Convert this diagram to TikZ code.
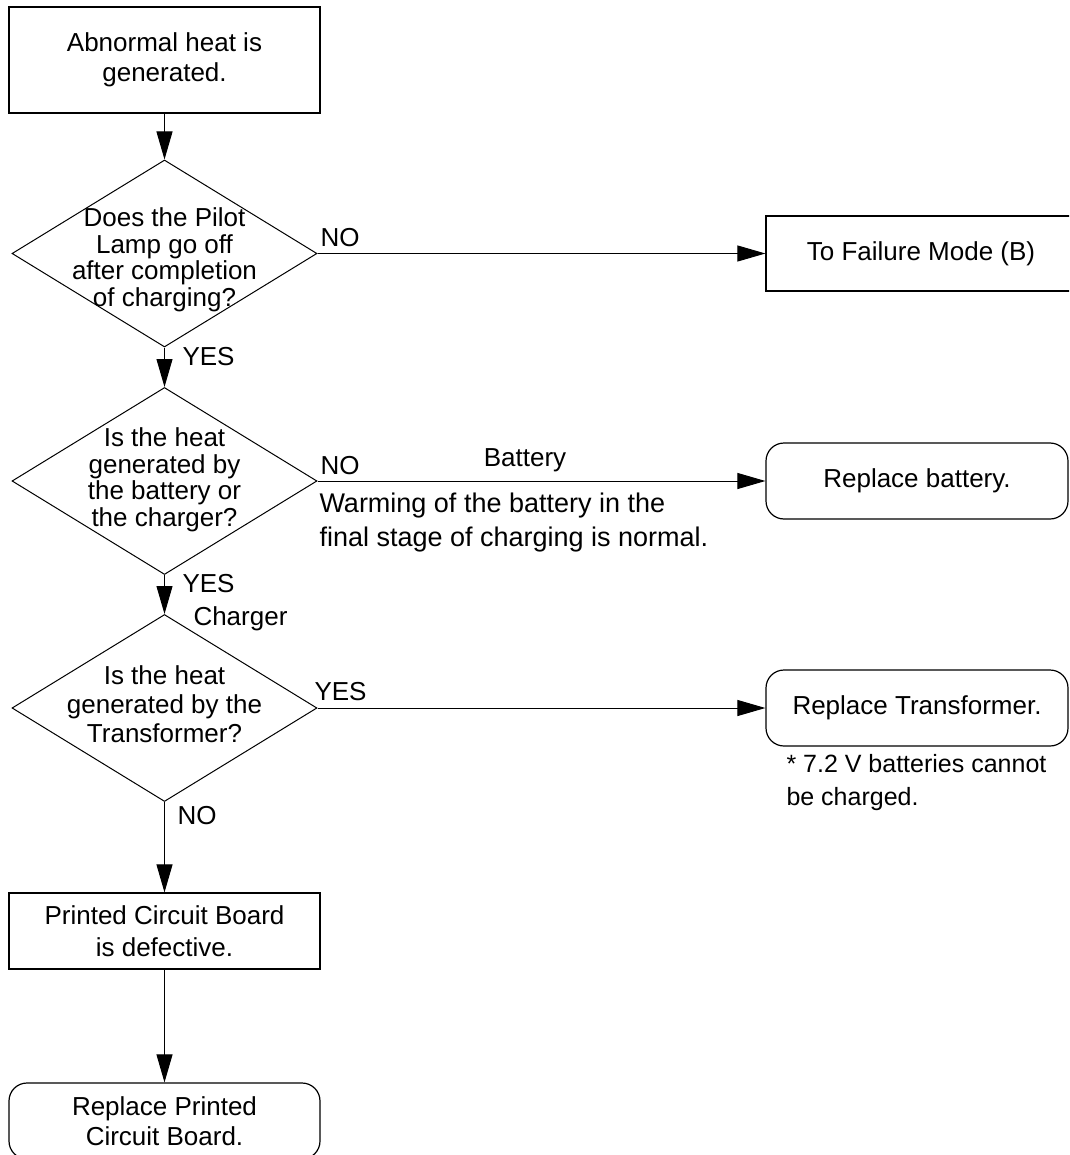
\documentclass[tikz,border=0pt]{standalone}
\usepackage{fontspec}
\setmainfont{Liberation Sans}
\usetikzlibrary{arrows.meta,shapes.geometric}
\begin{document}
\begin{tikzpicture}[x=1pt,y=-1pt,line width=1pt,
  txt/.style={font=\fontsize{26}{30}\selectfont},
  box/.style={draw,rectangle,line width=1.2pt,minimum width=311pt,inner sep=0pt,align=center,txt},
  rbox/.style={draw,rectangle,rounded corners=18pt,line width=1.2pt,minimum width=302pt,minimum height=76pt,inner sep=0pt,align=center,txt},
  dia/.style={draw,diamond,minimum width=305pt,minimum height=187pt,inner sep=0pt},
  qtext/.style={align=center,font=\fontsize{26}{26.5}\selectfont,inner sep=0pt},
  lab/.style={txt,inner sep=0pt},
  arr/.style={-{Triangle[length=28pt,width=16pt]}}
]
\useasboundingbox (0,0) rectangle (1069,1155);
\clip (0,0) rectangle (1069,1155);

% start box
\node[box,minimum height=106pt] (start) at (164.5,60) {Abnormal heat is\\generated.};

% decision 1
\node[dia] (d1) at (164.5,253.5) {};
\node[qtext] (q1) at (164.5,260) {Does the Pilot\\Lamp go off\\after completion\\of charging?};
\node[box,minimum width=310pt,minimum height=75pt] (fail) at (921,253.5) {To Failure Mode (B)};

% decision 2
\node[dia] (d2) at (164.5,481) {};
\node[qtext] (q2) at (164.5,480) {Is the heat\\generated by\\the battery or\\the charger?};
\node[rbox] (bat) at (917,481) {Replace battery.};

% decision 3
\node[dia] (d3) at (164.5,708) {};
\node[qtext,font=\fontsize{26}{29}\selectfont] (q3) at (164.5,704) {Is the heat\\generated by the\\Transformer?};
\node[rbox] (trf) at (917,708) {Replace Transformer.};

% bottom boxes
\node[box,minimum height=76pt,font=\fontsize{26}{32}\selectfont] (pcb) at (164.5,931) {Printed Circuit Board\\is defective.};
\node[rbox,minimum width=311pt] (rpcb) at (164.5,1121) {Replace Printed\\Circuit Board.};

% connectors
\draw[arr] (start.south) -- (d1.north);
\draw[arr] (d1.east) -- (fail.west);
\draw[arr] (d1.south) -- (d2.north);
\draw[arr] (d2.east) -- (bat.west);
\draw[arr] (d2.south) -- (d3.north);
\draw[arr] (d3.east) -- (trf.west);
\draw[arr] (d3.south) -- (pcb.north);
\draw[arr] (pcb.south) -- (rpcb.north);

% labels
\node[lab,anchor=base west] (l1) at (320,247) {NO};
\node[lab,anchor=base west] (l2) at (182,365) {YES};
\node[lab,anchor=base west] (l3) at (320,474) {NO};
\node[lab,anchor=base] (l4) at (525,466) {Battery};
\node[lab,anchor=west,align=left,font=\fontsize{27}{34}\selectfont] (l5) at (319,523) {Warming of the battery in the\\final stage of charging is normal.};
\node[lab,anchor=base west] (l6) at (182,592) {YES};
\node[lab,anchor=base west] (l7) at (193,625) {Charger};
\node[lab,anchor=base west] (l8) at (314,700) {YES};
\node[lab,anchor=west,align=left,font=\fontsize{25}{33}\selectfont] (l9) at (786,783) {* 7.2 V batteries cannot\\be charged.};
\node[lab,anchor=base west] (l10) at (177,824) {NO};
\end{tikzpicture}
\end{document}
